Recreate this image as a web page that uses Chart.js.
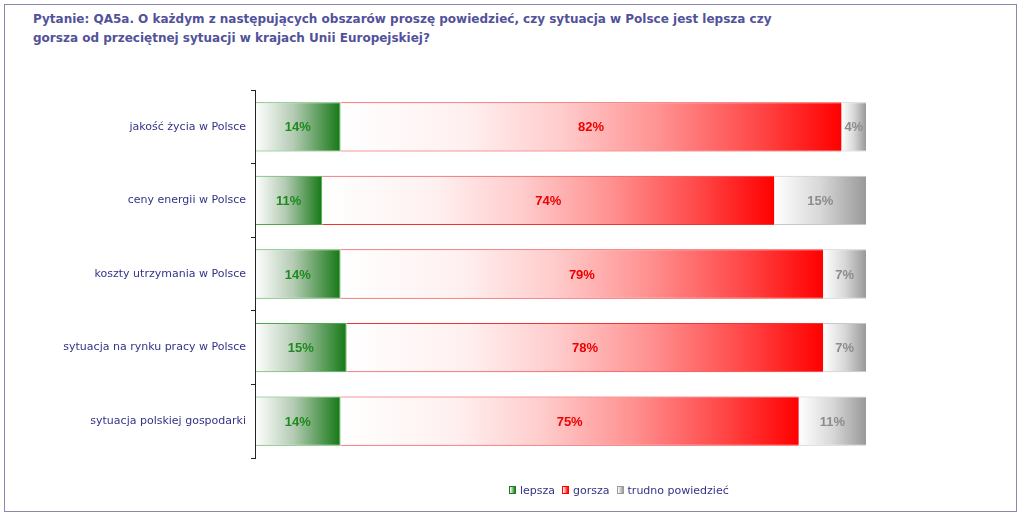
<!DOCTYPE html>
<html>
<head>
<meta charset="utf-8">
<script src="https://cdn.jsdelivr.net/npm/chart.js@4"></script>
<style>
  body { margin: 0; background: #fff; }
  #wrap { position: relative; width: 1024px; height: 517px; }
  #frame { position: absolute; left: 4px; top: 4px; width: 1013px; height: 508px; border: 1px solid #8a88aa; box-sizing: border-box; }
  #title { position: absolute; left: 33px; top: 10px; font: bold 12px "DejaVu Sans", Verdana, sans-serif; color: #52529a; line-height: 19px; }
  #legend { position: absolute; left: 502px; top: 484px; font: 11px "DejaVu Sans", Verdana, sans-serif; color: #333388; white-space: nowrap; }
  #legend span.box { display: inline-block; width: 5px; height: 6px; border: 1px solid; margin: 0 4px 0 7px; vertical-align: 0px; }
  canvas { position: absolute; left: 0; top: 0; }
</style>
</head>
<body>
<div id="wrap">
  <div id="frame"></div>
  <div id="title">Pytanie: QA5a. O każdym z następujących obszarów proszę powiedzieć, czy sytuacja w Polsce jest lepsza czy<br>gorsza od przeciętnej sytuacji w krajach Unii Europejskiej?</div>
  <canvas id="myChart" width="1024" height="517"></canvas>
  <div id="legend"></div>
</div>
<script>
// dane z wykresu (%)
const categories = ['jakość życia w Polsce', 'ceny energii w Polsce', 'koszty utrzymania w Polsce', 'sytuacja na rynku pracy w Polsce', 'sytuacja polskiej gospodarki'];
const seriesNames = ['lepsza', 'gorsza', 'trudno powiedzieć'];
const lepsza = [14, 11, 14, 15, 14];
const gorsza = [82, 74, 79, 78, 75];
const trudno = [4, 15, 7, 7, 11];

// kolory gradientow: od lewej do prawej
const gradStops = [
  [[0, '#ffffff'], [0.45, '#b4cbb4'], [1, '#157815']],
  [[0, '#ffffff'], [0.25, '#fff0f0'], [0.44, '#ffcccc'], [0.64, '#ff9090'], [0.84, '#ff4545'], [1, '#ff0000']],
  [[0, '#ffffff'], [0.5, '#d8d8d8'], [1, '#999999']]
];
const borderColors = ['#4fa84f', '#ee3333', '#c8c8c8'];
const labelColors = ['#1f8a1f', '#ee0000', '#8c8c8c'];
const allSeries = [lepsza, gorsza, trudno];

function makeGradient(ctx, dsIndex) {
  const chart = ctx.chart;
  const stops = gradStops[dsIndex];
  const xs = chart.scales.x;
  const fallback = stops[stops.length - 1][1];
  if (!xs || ctx.type !== 'data') return fallback;
  let start = 0;
  for (let i = 0; i < dsIndex; i++) start += allSeries[i][ctx.dataIndex];
  const end = start + allSeries[dsIndex][ctx.dataIndex];
  const x0 = xs.getPixelForValue(start);
  const x1 = xs.getPixelForValue(end);
  if (!isFinite(x0) || !isFinite(x1) || x0 === x1) return fallback;
  const g = chart.ctx.createLinearGradient(x0, 0, x1, 0);
  stops.forEach(s => g.addColorStop(s[0], s[1]));
  return g;
}

// etykiety wartosci + linia osi na wierzchu slupkow
const valueLabels = {
  id: 'valueLabels',
  afterDatasetsDraw(chart) {
    const c = chart.ctx;
    const area = chart.chartArea;
    c.save();
    c.strokeStyle = '#222';
    c.lineWidth = 1;
    c.beginPath();
    c.moveTo(area.left + 0.5, area.top);
    c.lineTo(area.left + 0.5, area.bottom);
    c.stroke();
    c.font = 'bold 13px "Liberation Sans", Arial, sans-serif';
    c.textAlign = 'center';
    c.textBaseline = 'middle';
    chart.data.datasets.forEach((ds, di) => {
      chart.getDatasetMeta(di).data.forEach((el, i) => {
        c.fillStyle = labelColors[di];
        c.fillText(ds.data[i] + '%', (el.x + el.base) / 2, el.y + 1);
      });
    });
    c.restore();
  }
};

const ctx = document.getElementById('myChart').getContext('2d');
new Chart(ctx, {
  type: 'bar',
  data: {
    labels: categories,
    datasets: allSeries.map((d, i) => ({
      label: seriesNames[i],
      data: d,
      backgroundColor: c => makeGradient(c, i),
      borderColor: borderColors[i],
      borderWidth: { top: 1, bottom: 1, left: 0, right: i === 0 ? 1 : 0 },
      borderSkipped: false,
      barPercentage: 0.67,
      categoryPercentage: 1
    }))
  },
  options: {
    indexAxis: 'y',
    responsive: false,
    animation: false,
    layout: { padding: { left: 20, top: 90, right: 158, bottom: 59 } },
    scales: {
      x: { display: false, stacked: true, min: 0, max: 100 },
      y: {
        stacked: true,
        afterFit: s => { s.width = 235; },
        grid: { display: true, drawOnChartArea: false, drawTicks: true, tickLength: 4, color: '#222', offset: true },
        border: { display: true, color: '#222', width: 1 },
        ticks: { color: '#333388', padding: 5, font: { family: '"DejaVu Sans", Verdana, sans-serif', size: 11 } }
      }
    },
    plugins: {
      legend: { display: false },
      tooltip: { enabled: false }
    }
  },
  plugins: [valueLabels]
});

// legenda
const legendBoxes = [
  ['#1a7d1a', 'linear-gradient(to right, #fff, #1a7d1a)'],
  ['#ff0000', 'linear-gradient(to right, #fff, #ff0000)'],
  ['#9a9a9a', 'linear-gradient(to right, #fff, #9a9a9a)']
];
document.getElementById('legend').innerHTML = seriesNames.map((n, i) =>
  '<span class="box" style="border-color:' + legendBoxes[i][0] + ';background:' + legendBoxes[i][1] + '"></span>' + n
).join('');
</script>
</body>
</html>
